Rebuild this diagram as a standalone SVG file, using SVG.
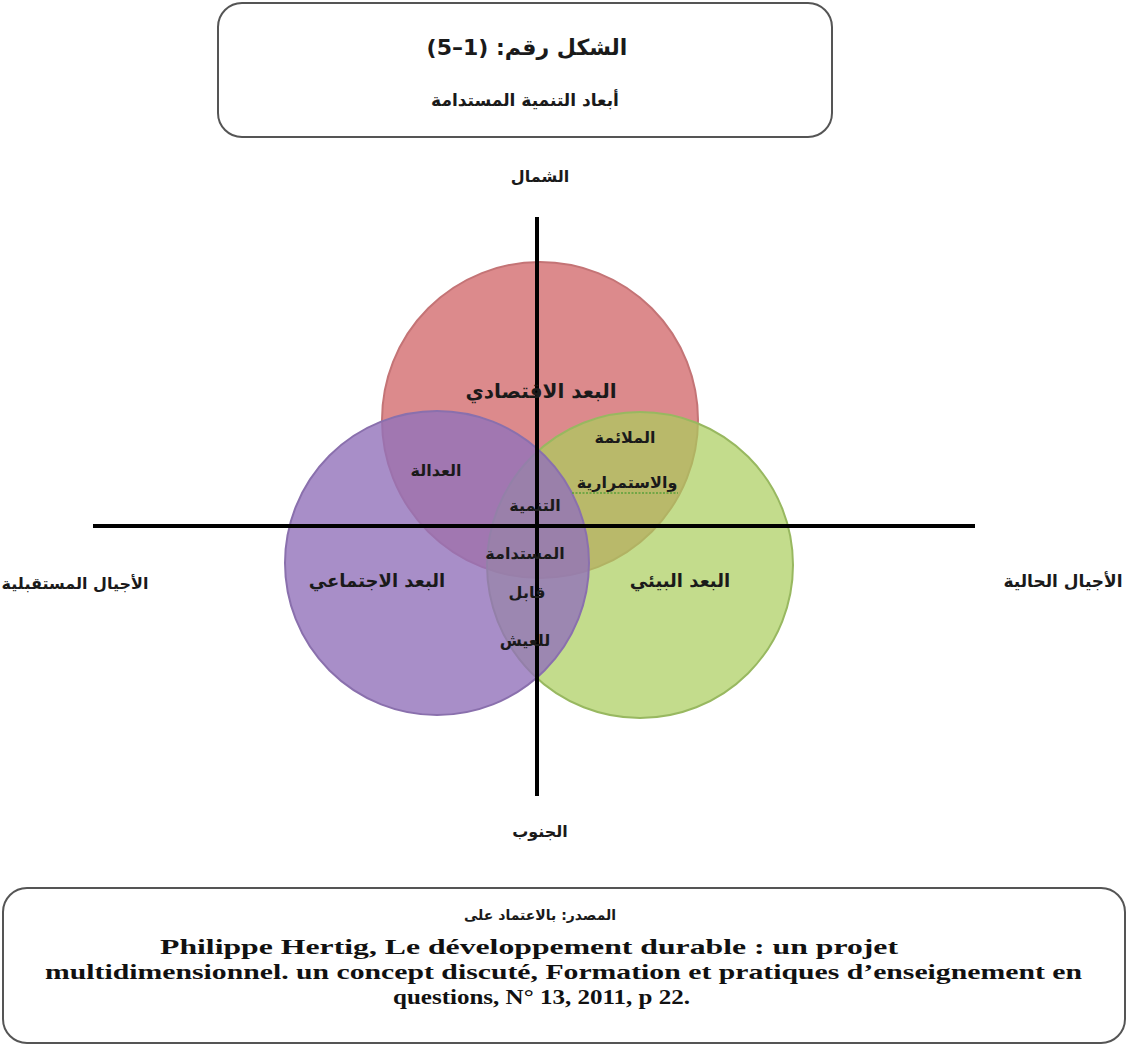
<svg xmlns="http://www.w3.org/2000/svg" width="1128" height="1048" viewBox="0 0 1128 1048">
<style>
.box{fill:#fff;stroke:#555;stroke-width:2}
.ar{font-family:"DejaVu Sans",sans-serif;font-weight:bold;fill:#1a1a1a;text-anchor:middle;direction:rtl;unicode-bidi:embed}
.en{font-family:"Liberation Serif",serif;font-weight:bold;fill:#111;font-size:21px}
.axis{stroke:#000;stroke-width:4;fill:none}
</style>
<rect width="1128" height="1048" fill="#fff"/>
<g id="title">
<rect class="box" x="218" y="3" width="614" height="134" rx="24"/>
<text class="ar" x="527" y="55" font-size="22">الشكل رقم: (1–5)</text>
<text class="ar" x="525" y="106" font-size="17">أبعاد التنمية المستدامة</text>
</g>
<g id="circles">
<circle id="economic" cx="540" cy="420" r="158" fill="#dc8a8c" stroke="#c47476" stroke-width="2"/>
<circle id="environmental" cx="640" cy="565" r="153" fill="#a9cd5b" fill-opacity="0.7" stroke="#98b860" stroke-width="2"/>
<circle id="social" cx="437" cy="563" r="152" fill="#9272ba" fill-opacity="0.8" stroke="#8a70ad" stroke-width="2"/>
</g>
<g id="connectors">
<line class="axis" x1="537" y1="217" x2="537" y2="796"/>
<line class="axis" x1="93" y1="526" x2="975" y2="526"/>
</g>
<g id="labels">
<text class="ar" x="540" y="182" font-size="16">الشمال</text>
<text class="ar" x="540" y="837" font-size="16">الجنوب</text>
<text class="ar" x="75" y="589" font-size="16">الأجيال المستقبلية</text>
<text class="ar" x="1063" y="587" font-size="17">الأجيال الحالية</text>
</g>
<g id="inner-labels">
<text class="ar" x="541" y="398" font-size="20">البعد الاقتصادي</text>
<text class="ar" x="625" y="443" font-size="16">الملائمة</text>
<text class="ar" x="627" y="488" font-size="16">والاستمرارية</text>
<line x1="572" y1="493" x2="678" y2="493" stroke="#5aa03a" stroke-width="1.5" stroke-dasharray="2,1.5"/>
<text class="ar" x="436" y="476" font-size="16">العدالة</text>
<text class="ar" x="535" y="511" font-size="16">التنمية</text>
<text class="ar" x="525" y="559" font-size="16">المستدامة</text>
<text class="ar" x="527" y="598" font-size="16">قابل</text>
<text class="ar" x="525" y="646" font-size="16">للعيش</text>
<text class="ar" x="377" y="587" font-size="18">البعد الاجتماعي</text>
<text class="ar" x="680" y="587" font-size="18">البعد البيئي</text>
</g>
<g id="source">
<rect class="box" x="3" y="888" width="1122" height="155" rx="24"/>
<text class="ar" x="540" y="920" font-size="14">المصدر: بالاعتماد على</text>
<text class="en" x="160" y="954" textLength="738" lengthAdjust="spacingAndGlyphs">Philippe Hertig, Le développement durable : un projet</text>
<text class="en" x="45" y="979" textLength="1037" lengthAdjust="spacingAndGlyphs">multidimensionnel. un concept discuté, Formation et pratiques d’enseignement en</text>
<text class="en" x="393" y="1004" textLength="297" lengthAdjust="spacingAndGlyphs">questions, N° 13, 2011, p 22.</text>
</g>
</svg>
